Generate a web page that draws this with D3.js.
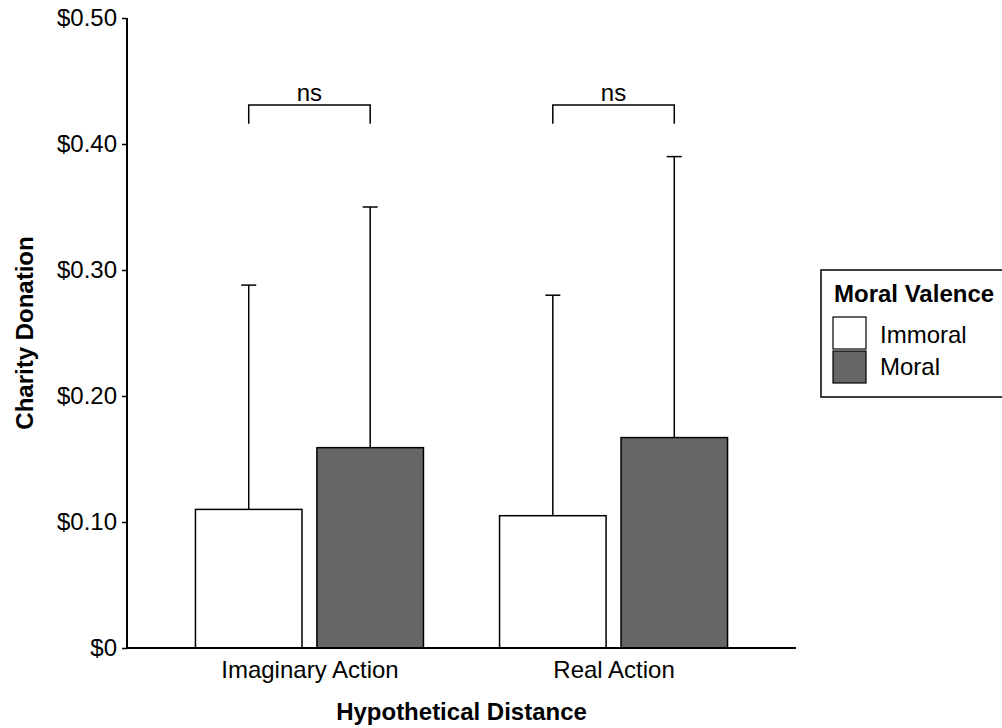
<!DOCTYPE html>
<html>
<head>
<meta charset="utf-8">
<script src="https://cdn.jsdelivr.net/npm/d3@7"></script>
<style>
  body { margin: 0; background: #fff; }
  text { font-family: "Liberation Sans", Arial, sans-serif; fill: #000; }
</style>
</head>
<body>
<div id="chart"></div>
<script>
const categories = ["Imaginary Action", "Real Action"];
const groups = ["Immoral", "Moral"];
const means = { "Imaginary Action": [0.110, 0.159], "Real Action": [0.105, 0.167] };
const upper = { "Imaginary Action": [0.288, 0.350], "Real Action": [0.280, 0.390] };
const yTicks = [0, 0.1, 0.2, 0.3, 0.4, 0.5];
const brackets = [
  { cat: "Imaginary Action", top: 0.431, tip: 0.416, label: "ns" },
  { cat: "Real Action", top: 0.431, tip: 0.416, label: "ns" }
];
const fills = ["#ffffff", "#666666"];

const width = 1002, height = 728;
const plotLeft = 127, plotRight = 796, plotTop = 18, plotBottom = 648;
const fs = 24;

const svg = d3.select("#chart").append("svg")
    .attr("width", width)
    .attr("height", height);

const x = d3.scalePoint().domain(categories).range([plotLeft, plotRight]).padding(0.6);
const sub = d3.scaleBand().domain(groups).range([-114, 114]).paddingInner(0.123);
const y = d3.scaleLinear().domain([0, 0.5]).range([plotBottom, plotTop]);
const colour = d3.scaleOrdinal().domain(groups).range(fills);

const rows = [];
categories.forEach(c => groups.forEach((g, i) => {
    rows.push({ cat: c, group: g, mean: means[c][i], up: upper[c][i] });
}));

// error bars (upper half only)
const eb = svg.append("g").attr("stroke", "#000").attr("stroke-width", 1.5);
rows.forEach(d => {
    const cx = x(d.cat) + sub(d.group) + sub.bandwidth() / 2;
    eb.append("line").attr("x1", cx).attr("x2", cx)
        .attr("y1", y(d.mean)).attr("y2", y(d.up));
    eb.append("line").attr("x1", cx - 7.5).attr("x2", cx + 7.5)
        .attr("y1", y(d.up)).attr("y2", y(d.up));
});

// bars
svg.append("g").selectAll("rect")
    .data(rows)
    .join("rect")
    .attr("x", d => x(d.cat) + sub(d.group))
    .attr("width", sub.bandwidth())
    .attr("y", d => y(d.mean))
    .attr("height", d => y(0) - y(d.mean))
    .attr("fill", d => colour(d.group))
    .attr("stroke", "#000")
    .attr("stroke-width", 1.5);

// significance brackets
brackets.forEach(b => {
    const x1 = x(b.cat) + sub("Immoral") + sub.bandwidth() / 2;
    const x2 = x(b.cat) + sub("Moral") + sub.bandwidth() / 2;
    svg.append("path")
        .attr("d", `M${x1},${y(b.tip)}V${y(b.top)}H${x2}V${y(b.tip)}`)
        .attr("fill", "none").attr("stroke", "#000").attr("stroke-width", 1.5);
    svg.append("text")
        .attr("x", (x1 + x2) / 2).attr("y", y(b.top) - 4)
        .attr("text-anchor", "middle").attr("font-size", fs)
        .text(b.label);
});

// y axis
const yAxis = svg.append("g")
    .attr("transform", `translate(${plotLeft},0)`)
    .call(d3.axisLeft(y).tickValues(yTicks).tickSize(5).tickPadding(5)
        .tickFormat(v => v === 0 ? "$0" : "$" + v.toFixed(2)));
yAxis.select(".domain").attr("d", `M0,${plotTop}V${plotBottom}`).attr("stroke-width", 2);
yAxis.selectAll(".tick line").attr("stroke-width", 1.5);
yAxis.selectAll("text").attr("font-size", fs).attr("font-family", "Liberation Sans, Arial, sans-serif");

// x axis
const xAxis = svg.append("g")
    .attr("transform", `translate(0,${plotBottom})`)
    .call(d3.axisBottom(x).tickSize(0).tickPadding(13));
xAxis.select(".domain").attr("d", `M${plotLeft - 1},0H${plotRight}`).attr("stroke-width", 2);
xAxis.selectAll("text").attr("font-size", fs).attr("font-family", "Liberation Sans, Arial, sans-serif");

// axis titles
svg.append("text")
    .attr("x", (plotLeft + plotRight) / 2).attr("y", 720)
    .attr("text-anchor", "middle").attr("font-size", fs).attr("font-weight", "bold")
    .text("Hypothetical Distance");
svg.append("text")
    .attr("transform", `translate(33,${(plotTop + plotBottom) / 2}) rotate(-90)`)
    .attr("text-anchor", "middle").attr("font-size", fs).attr("font-weight", "bold")
    .text("Charity Donation");

// legend
const lg = svg.append("g").attr("transform", "translate(821,270)");
lg.append("rect").attr("width", 190).attr("height", 127)
    .attr("fill", "#fff").attr("stroke", "#000").attr("stroke-width", 1.5);
lg.append("text").attr("x", 13).attr("y", 32)
    .attr("font-size", fs).attr("font-weight", "bold").text("Moral Valence");
groups.forEach((g, i) => {
    lg.append("rect").attr("x", 12).attr("y", 47 + i * 34)
        .attr("width", 33).attr("height", 32)
        .attr("fill", colour(g)).attr("stroke", "#000").attr("stroke-width", 1.2);
    lg.append("text").attr("x", 59).attr("y", 73 + i * 32)
        .attr("font-size", fs).text(g);
});
</script>
</body>
</html>
